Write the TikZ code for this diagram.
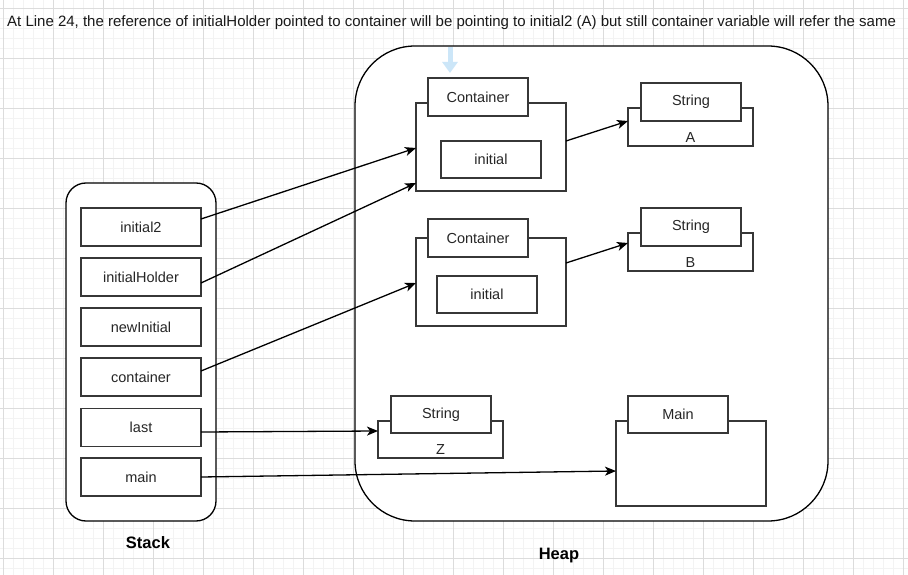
\documentclass[tikz,border=0pt]{standalone}
\usepackage{fontspec}
\setmainfont{Liberation Sans}
\usetikzlibrary{arrows.meta,calc}
\definecolor{minorgrid}{RGB}{243,243,243}
\definecolor{majorgrid}{RGB}{220,220,220}
\definecolor{boxline}{RGB}{55,55,55}
\definecolor{hint}{RGB}{204,230,248}
\begin{document}
\begin{tikzpicture}[x=1pt,y=-1pt,
  minorline/.style={draw=minorgrid,line width=0.7pt},
  majorline/.style={draw=majorgrid,line width=0.8pt},
  outerbox/.style={draw=black,fill=white,line width=1.3pt,inner sep=0pt,outer sep=0pt},
  box/.style={draw=boxline,fill=white,line width=1.3pt,inner sep=0pt,outer sep=0pt,
    font=\fontsize{14.5}{17}\selectfont,text=black!85},
  lbl/.style={inner sep=0pt,font=\fontsize{14.5}{17}\selectfont,text=black!85},
  stackbox/.style={box,minimum width=120pt,minimum height=38pt},
  headbox/.style={box,minimum width=100pt,minimum height=38pt},
  conn/.style={draw=black,line width=1.3pt,-{Stealth[length=11pt,width=9pt,inset=3pt]}},
  title/.style={inner sep=0pt,font=\fontsize{15}{18}\selectfont,text=black!90},
  bigl/.style={inner sep=0pt,font=\bfseries\fontsize{16.5}{20}\selectfont}
]
\useasboundingbox (0,0) rectangle (908,575);
\fill[white] (0,0) rectangle (908,575);
% grid
\foreach \x in {3,13,...,903} \draw[minorline] (\x,0) -- (\x,575);
\foreach \y in {8,18,...,568} \draw[minorline] (0,\y) -- (908,\y);
\foreach \x in {3,53,...,903} \draw[majorline] (\x,0) -- (\x,575);
\foreach \y in {8,58,...,558} \draw[majorline] (0,\y) -- (908,\y);

% title
\node[title,anchor=west] (titletext) at (7,23) {At Line 24, the reference of initialHolder pointed to container will be pointing to initial2 (A) but still container variable will refer the same};

% stack
\node[outerbox,rounded corners=20pt,minimum width=150pt,minimum height=338pt] (stack) at (141,352) {};
\node[stackbox] (initial2) at (141,227) {\raisebox{-1pt}{initial2}};
\node[stackbox] (initialHolder) at (141,277) {\raisebox{-1pt}{initialHolder}};
\node[stackbox] (newInitial) at (141,327) {\raisebox{-1pt}{newInitial}};
\node[stackbox] (container) at (141,377) {\raisebox{-1pt}{container}};
\node[stackbox] (last) at (141,427.5) {\raisebox{-1pt}{last}};
\node[stackbox] (main) at (141,477) {\raisebox{-1pt}{main}};
\node[bigl] (stacklbl) at (148,543) {Stack};

% heap
\node[outerbox,rounded corners=60pt,minimum width=473pt,minimum height=475pt] (heap) at (591.5,283.5) {};
\node[bigl] (heaplbl) at (559,556) {Heap};

% container 1
\node[box,minimum width=150pt,minimum height=88pt] (c1body) at (491,147) {};
\node[headbox] (c1head) at (478,97) {\raisebox{-1pt}{Container}};
\node[box,minimum width=100pt,minimum height=37pt] (c1init) at (491,159.5) {\raisebox{-1pt}{initial}};
% string A
\node[box,minimum width=125pt,minimum height=38pt] (sAbody) at (690.5,127) {};
\node[headbox] (sAhead) at (691,102) {\raisebox{-1pt}{String}};
\node[lbl] (sAval) at (690.5,138) {A};

% container 2
\node[box,minimum width=150pt,minimum height=88pt] (c2body) at (491,282) {};
\node[headbox] (c2head) at (478,238) {\raisebox{-1pt}{Container}};
\node[box,minimum width=100pt,minimum height=37pt] (c2init) at (487,294.5) {\raisebox{-1pt}{initial}};
% string B
\node[box,minimum width=125pt,minimum height=38pt] (sBbody) at (690.5,252) {};
\node[headbox] (sBhead) at (691,227) {\raisebox{-1pt}{String}};
\node[lbl] (sBval) at (690.5,263) {B};

% string Z
\node[box,minimum width=125pt,minimum height=37pt] (sZbody) at (440.5,439.5) {};
\node[headbox,minimum height=37pt] (sZhead) at (441,414.5) {\raisebox{-1pt}{String}};
\node[lbl] (sZval) at (440.5,450) {Z};

% main
\node[box,minimum width=150pt,minimum height=85pt] (mainbody) at (691,463.5) {};
\node[headbox,minimum height=37pt] (mainhead) at (678,414.5) {\raisebox{-1pt}{Main}};

% hint arrow
\coordinate (hinttop) at (450,47);
\coordinate (hinttip) at (450,73);
\draw[draw=hint,line width=5pt,-{Triangle[length=11pt,width=15pt]}] (hinttop) -- (hinttip);

% connectors
\draw[conn] ($(initial2.east)+(0,-8)$) -- ($(c1body.west)+(0,1)$);
\draw[conn] ($(initialHolder.east)+(0,6)$) -- ($(c1body.south west)+(0,-8)$);
\draw[conn] ($(container.east)+(0,-6)$) -- ($(c2body.west)+(0,1)$);
\draw[conn] ($(last.east)+(0,4.5)$) -- ($(sZbody.west)+(0,-8.5)$);
\draw[conn] (main.east) -- ($(mainbody.west)+(0,7.5)$);
\draw[conn] ($(c1body.east)+(0,-6)$) -- ($(sAbody.west)+(0,-6)$);
\draw[conn] ($(c2body.east)+(0,-19)$) -- ($(sBbody.west)+(0,-9)$);
\end{tikzpicture}
\end{document}
